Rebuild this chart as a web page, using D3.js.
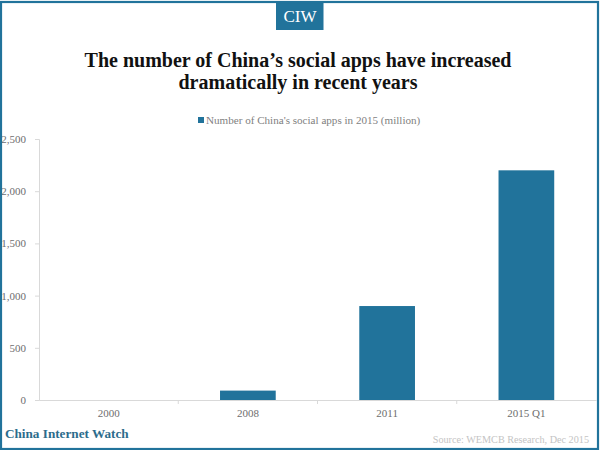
<!DOCTYPE html>
<html>
<head>
<meta charset="utf-8">
<script src="https://cdn.jsdelivr.net/npm/d3@7"></script>
<style>
  html, body { margin: 0; padding: 0; background: #fff; }
  svg { display: block; }
  text { font-family: "Liberation Serif", serif; }
</style>
</head>
<body>
<div id="chart"></div>
<script>
const categories = ["2000", "2008", "2011", "2015 Q1"];
const apps = [0, 90, 900, 2200];
const yTicks = [0, 500, 1000, 1500, 2000, 2500];
const titleLines = ["The number of China’s social apps have increased", "dramatically in recent years"];
const legendLabel = "Number of China's social apps in 2015 (million)";

const teal = "#21739b";
const width = 600;
const height = 450;

const svg = d3.select("#chart")
    .append("svg")
    .attr("width", width)
    .attr("height", height);

// logo box
svg.append("rect")
    .attr("x", 276)
    .attr("y", 2)
    .attr("width", 47.5)
    .attr("height", 28)
    .attr("fill", teal);

svg.append("text")
    .attr("x", 300)
    .attr("y", 21.5)
    .attr("text-anchor", "middle")
    .attr("font-size", 17)
    .attr("fill", "#fff")
    .text("CIW");

svg.selectAll(".title").data(titleLines).enter()
    .append("text")
    .attr("class", "title")
    .attr("x", 298)
    .attr("y", (d, i) => 67 + i * 22)
    .attr("text-anchor", "middle")
    .attr("font-size", 20)
    .attr("font-weight", "bold")
    .attr("fill", "#111")
    .text(d => d);

// legend
svg.append("rect")
    .attr("x", 198)
    .attr("y", 117)
    .attr("width", 6)
    .attr("height", 6)
    .attr("fill", teal);

svg.append("text")
    .attr("x", 206)
    .attr("y", 124)
    .attr("font-size", 11.1)
    .style("fill", "#7f7f7f")
    .text(legendLabel);

const x = d3.scaleBand()
    .domain(categories)
    .range([39, 596])
    .paddingInner(0.6)
    .paddingOuter(0.3);

const y = d3.scaleLinear()
    .domain([0, 2500])
    .range([400, 139]);

const yAxis = svg.append("g")
    .attr("transform", "translate(39,0)")
    .call(d3.axisLeft(y).tickValues(yTicks).tickFormat(d3.format(",")).tickSize(4).tickPadding(9));

const xAxis = svg.append("g")
    .attr("transform", "translate(0,400)")
    .call(d3.axisBottom(x).tickSize(0).tickPadding(9));

[yAxis, xAxis].forEach(g => {
  g.selectAll("text")
      .attr("font-size", 11)
      .style("fill", "#6e6e6e")
      .style("font-family", "'Liberation Serif', serif");
  g.selectAll("line").attr("stroke", "#d9d9d9");
  g.select(".domain").attr("stroke", "#d9d9d9");
});

// band separators on the x axis
xAxis.selectAll(".sep").data(x.domain().slice(0, -1)).enter()
    .append("line")
    .attr("class", "sep")
    .attr("x1", d => x(d) + x.bandwidth() + x.step() * x.paddingInner() / 2)
    .attr("x2", d => x(d) + x.bandwidth() + x.step() * x.paddingInner() / 2)
    .attr("y1", 0)
    .attr("y2", 4)
    .attr("stroke", "#d9d9d9");

svg.selectAll(".bar").data(categories).enter()
    .append("rect")
    .attr("class", "bar")
    .attr("x", d => x(d))
    .attr("y", (d, i) => y(apps[i]))
    .attr("width", x.bandwidth())
    .attr("height", (d, i) => 400 - y(apps[i]))
    .attr("fill", teal);

svg.append("text")
    .attr("x", 5)
    .attr("y", 438)
    .attr("font-size", 13.2)
    .attr("font-weight", "bold")
    .style("fill", "#2c6c8c")
    .text("China Internet Watch");

svg.append("text")
    .attr("x", 589)
    .attr("y", 443)
    .attr("text-anchor", "end")
    .attr("font-size", 10.2)
    .style("fill", "#c4c4c4")
    .text("Source: WEMCB Research, Dec 2015");

// frame goes on last, it sits over the tick labels at the left edge
svg.append("rect")
    .attr("x", 1)
    .attr("y", 2)
    .attr("width", 597)
    .attr("height", 447)
    .attr("fill", "none")
    .attr("stroke", teal)
    .attr("stroke-width", 2.2);
</script>
</body>
</html>
